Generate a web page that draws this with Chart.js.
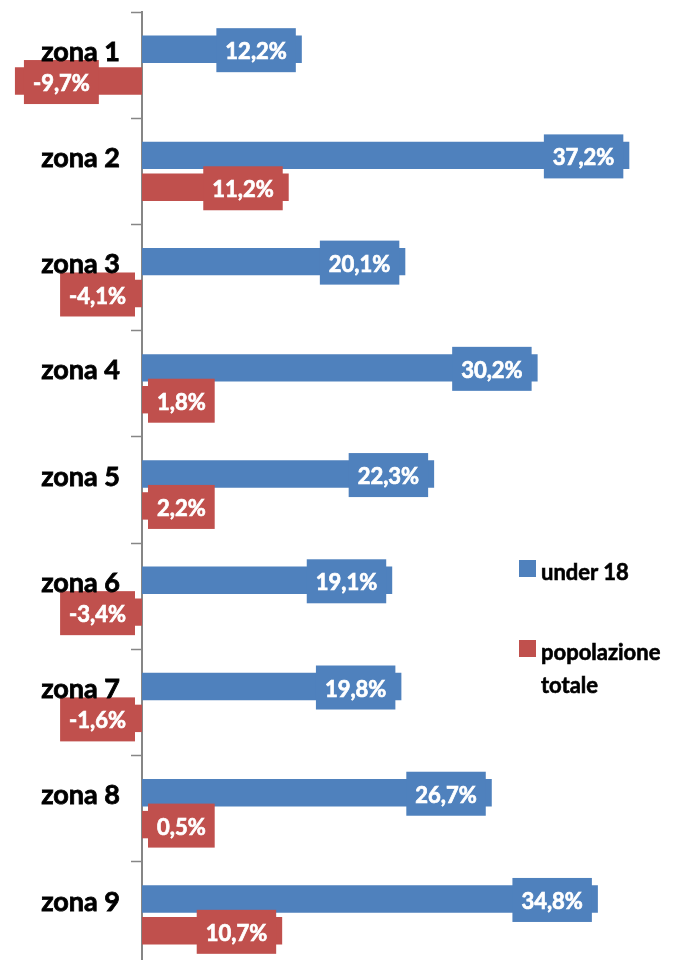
<!DOCTYPE html>
<html>
<head>
<meta charset="utf-8">
<script src="https://cdn.jsdelivr.net/npm/chart.js@4/dist/chart.umd.min.js"></script>
<style>
    html, body { margin: 0; padding: 0; background: #fff; overflow: hidden; }
    #wrap { position: relative; width: 687px; height: 970px; }
    #legend { position: absolute; left: 519px; top: 555px; font: bold 22px Lato, sans-serif; color: #000; -webkit-text-stroke: 0.6px #000; }
    .leg-item { display: flex; align-items: flex-start; width: 168px; line-height: 33px; }
    .leg-item + .leg-item { margin-top: 47px; }
    .leg-box { width: 17px; height: 17px; margin: 5px 5px 0 0; flex: none; }
</style>
</head>
<body>
<div id="wrap">
    <canvas id="chart"></canvas>
    <div id="legend"></div>
</div>
<script>
const zones = ['zona 1', 'zona 2', 'zona 3', 'zona 4', 'zona 5', 'zona 6', 'zona 7', 'zona 8', 'zona 9'];
const seriesNames = ['under 18', 'popolazione totale'];
const under18 = [12.2, 37.2, 20.1, 30.2, 22.3, 19.1, 19.8, 26.7, 34.8];
const totale = [-9.7, 11.2, -4.1, 1.8, 2.2, -3.4, -1.6, 0.5, 10.7];
const colors = ['#4f81bd', '#c0504d'];

const fmt = v => v.toFixed(1).replace('.', ',') + '%';

// category names sit next to the zero line, a bit above the centre of each group
const zoneLabels = {
    id: 'zoneLabels',
    afterDraw(chart) {
        const ctx = chart.ctx;
        const x0 = chart.scales.x.getPixelForValue(0);
        const ys = chart.scales.y;
        ctx.save();
        ctx.font = 'bold 27px Lato, sans-serif';
        ctx.textAlign = 'right';
        ctx.textBaseline = 'middle';
        ctx.fillStyle = '#000';
        ctx.strokeStyle = '#000';
        ctx.lineWidth = 0.8;
        zones.forEach((z, i) => {
            const y = ys.getPixelForValue(i) - 13;
            ctx.fillText(z, x0 - 22, y);
            ctx.strokeText(z, x0 - 22, y);
        });
        ctx.restore();
    }
};

// labels drawn in a coloured box at the inner end of each bar, like the excel "inside end"
const boxLabels = {
    id: 'boxLabels',
    afterDatasetsDraw(chart) {
        const ctx = chart.ctx;
        ctx.save();
        ctx.font = 'bold 22px Lato, sans-serif';
        ctx.textAlign = 'center';
        ctx.textBaseline = 'middle';
        ctx.strokeStyle = '#fff';
        ctx.lineWidth = 0.7;
        chart.data.datasets.forEach((ds, di) => {
            chart.getDatasetMeta(di).data.forEach((bar, i) => {
                const v = ds.data[i];
                const txt = fmt(v);
                const w = ctx.measureText(txt).width + 18;
                const h = 44;
                let left;
                if (v >= 0) {
                    left = bar.x - 6 - w;
                    if (left < bar.base + 6) left = bar.base + 6;
                } else {
                    left = bar.x + 9;
                    if (left + w > bar.base - 7) left = bar.base - 7 - w;
                }
                ctx.fillStyle = colors[di];
                ctx.fillRect(left, bar.y - h / 2 + 1, w, h);
                ctx.fillStyle = '#fff';
                ctx.fillText(txt, left + w / 2, bar.y + 3);
                ctx.strokeText(txt, left + w / 2, bar.y + 3);
            });
        });
        ctx.restore();
    }
};

new Chart(document.getElementById('chart'), {
    type: 'bar',
    data: {
        labels: zones,
        datasets: [
            { label: seriesNames[0], data: under18, backgroundColor: colors[0] },
            { label: seriesNames[1], data: totale, backgroundColor: colors[1] }
        ]
    },
    options: {
        indexAxis: 'y',
        responsive: true,
        maintainAspectRatio: false,
        animation: false,
        categoryPercentage: 0.6,
        barPercentage: 0.86,
        layout: { padding: { left: 11, right: 21, top: 12, bottom: 2 } },
        plugins: {
            legend: { display: false },
            tooltip: { enabled: false }
        },
        scales: {
            x: {
                display: false,
                min: -10,
                max: 40
            },
            y: {
                position: { x: 0 },
                grid: {
                    offset: true,
                    drawOnChartArea: false,
                    tickLength: 10,
                    tickColor: '#868686',
                    tickWidth: 1.5
                },
                border: { color: '#868686', width: 2 },
                ticks: { display: false },
                afterFit(scale) {
                    scale.paddingTop = 0;
                    scale.paddingBottom = 0;
                }
            }
        }
    },
    plugins: [boxLabels, zoneLabels]
});

// html legend so the second name can wrap on two lines
document.getElementById('legend').innerHTML = seriesNames.map((n, i) =>
    `<div class="leg-item"><span class="leg-box" style="background:${colors[i]}"></span><span>${n}</span></div>`
).join('');
</script>
</body>
</html>
